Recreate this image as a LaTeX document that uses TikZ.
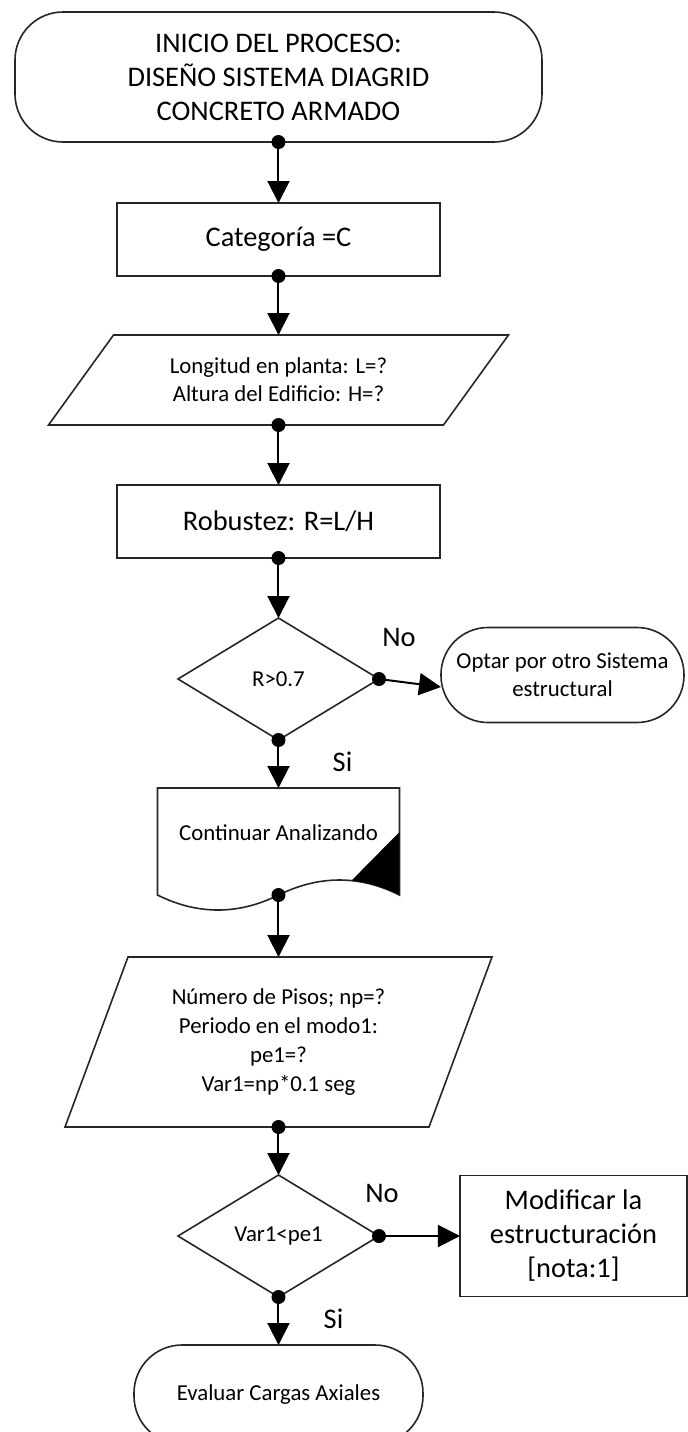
\documentclass[tikz,border=0pt]{standalone}
\usepackage{fontspec}
\setmainfont{Carlito}
\usetikzlibrary{arrows.meta,positioning,shapes.geometric}

\begin{document}
\begin{tikzpicture}[big/.style={font=\fontsize{14.2}{17}\selectfont},small/.style={font=\fontsize{11.4}{14}\selectfont},
edgeline/.style={draw=black!85,line width=.8pt},
term/.style={edgeline,outer sep=0pt,rounded corners=24pt,align=center},
box/.style={edgeline,outer sep=0pt,minimum width=161.5pt,minimum height=36.5pt,align=center,big},
io/.style={outer sep=0pt,align=center,small},
cond/.style={diamond,edgeline,outer sep=0pt,minimum width=100.5pt,minimum height=61pt,inner sep=0pt,small},
arrow/.style={-{Triangle[length=11pt,width=11pt]},line width=1pt}]
\useasboundingbox (-139.25pt,38.5pt) rectangle (204.75pt,-677.5pt);
\node[term,big,minimum width=263.5pt,minimum height=65pt] (start) {INICIO DEL PROCESO:\\DISEÑO SISTEMA DIAGRID\\CONCRETO ARMADO};
\node[box,below=30.5pt of start] (cat) {Categoría =C};
\node[io,minimum width=197.5pt,minimum height=45pt,below=29.5pt of cat] (in1) {Longitud en planta: L=?\\Altura del Edificio: H=?};
\node[box,below=30pt of in1] (rob) {Robustez: R=L/H};
\node[cond,below=30pt of rob] (d1) {R>0.7};
\node[term,small,rounded corners=23.5pt,minimum width=121.5pt,minimum height=47.5pt,right=31pt of d1,yshift=2pt] (opt) {Optar por otro Sistema\\estructural};
\node[small,outer sep=0pt,text depth=8.5pt,minimum width=121pt,minimum height=53.5pt,below=24pt of d1] (doc) {Continuar Analizando};
\node[io,font=\fontsize{11.4}{14.6}\selectfont,minimum width=182pt,minimum height=85pt,below=31pt of doc] (in2) {Número de Pisos; np=?\\Periodo en el modo1:\\pe1=?\\Var1=np*0.1 seg};
\node[cond,below=24pt of in2] (d2) {Var1<pe1};
\node[box,minimum width=113.5pt,minimum height=60.5pt,right=40.5pt of d2] (mod) {Modificar la\\estructuración\\{[nota:1]}};
\node[term,small,minimum width=144.5pt,minimum height=49.5pt,below=24pt of d2] (eval) {Evaluar Cargas Axiales};
\node[big] (no1) at ([xshift=10pt,yshift=21pt]d1.east) {No};
\node[big] (si1) at ([xshift=32pt,yshift=-11pt]d1.south) {Si};
\node[big] (no2) at ([xshift=1.5pt,yshift=21.5pt]d2.east) {No};
\node[big] (si2) at ([xshift=27.5pt,yshift=-11pt]d2.south) {Si};
\draw[edgeline] ([xshift=-16.25pt]in1.south west) -- ([xshift=16.25pt]in1.north west) -- ([xshift=16.25pt]in1.north east) -- ([xshift=-16.25pt]in1.south east) -- cycle;
\draw[edgeline] ([xshift=-15.75pt]in2.south west) -- ([xshift=15.75pt]in2.north west) -- ([xshift=15.75pt]in2.north east) -- ([xshift=-15.75pt]in2.south east) -- cycle;
\draw[edgeline] (doc.south west) -- (doc.north west) -- (doc.north east) -- (doc.south east) .. controls +(-20pt,10pt) and +(20.5pt,10pt) .. (doc.south) .. controls +(-20pt,-10pt) and +(20pt,-10pt) .. (doc.south west) -- cycle;
\fill[shift={(doc.south east)}] (0,31.5pt) -- (-24pt,7.2pt) .. controls (-16pt,6.4pt) and (-8pt,4pt) .. (0,0) -- cycle;
\draw[arrow] (start.south)--(cat); \draw[arrow] (cat.south)--(in1); \draw[arrow] (in1.south)--(rob); \draw[arrow] (rob.south)--(d1);
\draw[arrow] (d1.east)--([yshift=-6pt]opt.west); \draw[arrow] (d1.south)--(doc); \draw[arrow] (doc.south)--(in2);
\draw[arrow] (in2.south)--(d2); \draw[arrow] (d2.east)--(mod); \draw[arrow] (d2.south)--(eval);
\fill (start.south) circle (3.5pt); \fill (cat.south) circle (3.5pt); \fill (in1.south) circle (3.5pt); \fill (rob.south) circle (3.5pt);
\fill (d1.east) circle (3.5pt); \fill (d1.south) circle (3.5pt); \fill (doc.south) circle (3.5pt); \fill (in2.south) circle (3.5pt);
\fill (d2.east) circle (3.5pt); \fill (d2.south) circle (3.5pt);
\end{tikzpicture}
\end{document}
